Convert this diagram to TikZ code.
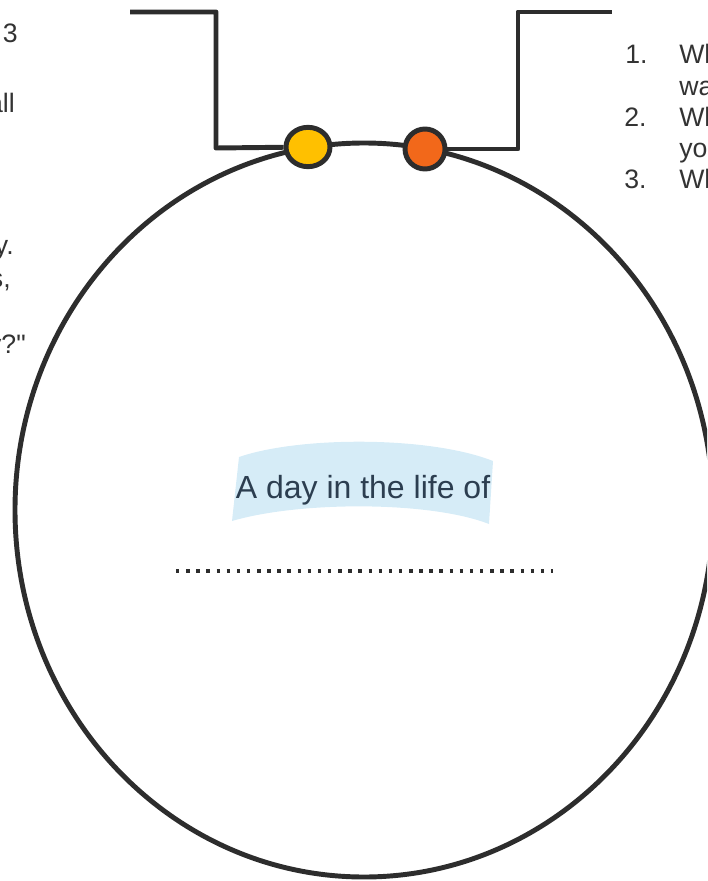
\documentclass[tikz,border=0pt]{standalone}
\usepackage{fontspec}
\setmainfont{Liberation Sans}[Ligatures=TeXOff]
\usetikzlibrary{positioning, shapes.geometric}
\definecolor{inkgray}{RGB}{45,45,45}
\definecolor{dotyellow}{RGB}{255,192,0}
\definecolor{dotorange}{RGB}{242,104,26}
\definecolor{bannerblue}{RGB}{214,236,247}
\definecolor{titleslate}{RGB}{44,62,80}
\definecolor{sidegray}{RGB}{51,51,51}

\begin{document}
\begin{tikzpicture}[x=0.75pt, y=-0.75pt,
  outline/.style={draw=inkgray, line width=3.7pt, line join=round},
  dotnode/.style={ellipse, draw=inkgray, line width=3.7pt, inner sep=0pt},
  sidetext/.style={font=\fontsize{20pt}{23pt}\selectfont, text=sidegray, inner sep=0pt}]
  \useasboundingbox (0,0) rectangle (707,881);
  \clip (0,0) rectangle (707,881);

  % big frame
  \draw[outline] (364,510) ellipse [x radius=349, y radius=367];

  % the two dots on top
  \node[dotnode, fill=dotyellow, minimum width=33pt, minimum height=29.5pt] (ydot) at (308,147) {};
  \node[dotnode, fill=dotorange, minimum width=30pt, minimum height=30pt] (odot) at (425,149) {};

  \coordinate (lefttop) at (130,12);
  \coordinate (leftbend) at (216,148);
  \coordinate (rightbend) at (518,149);
  \coordinate (righttop) at (612,12);
  \draw[outline] (lefttop) -| (leftbend) -- (ydot);
  \draw[outline] (odot) -- (rightbend) |- (righttop);

  % title banner
  \fill[bannerblue] (239,457) .. controls (300,436) and (430,436) .. (493,461)
    -- (489,524) .. controls (430,501) and (300,501) .. (232,521) -- cycle;
  \node[font=\fontsize{24pt}{28pt}\selectfont, text=titleslate, inner sep=0pt, anchor=base]
    (daytitle) at (363,498) {A day in the life of};

  \coordinate (dotsleft) at (176,571);
  \coordinate (dotsright) at (553,571);
  \draw[draw=inkgray, line width=2.6pt, dash pattern=on 2.6pt off 5pt] (dotsleft) -- (dotsright);

  % left column (cut off)
  \node[sidetext, anchor=base east] (lefta) at (18,43) {3};
  \node[sidetext, anchor=base east] (leftb) at (15,113) {all};
  \node[sidetext, anchor=base east] (leftc) at (14,254) {y.};
  \node[sidetext, anchor=base east] (leftd) at (11,287) {s,};
  \node[sidetext, anchor=base east] (lefte) at (26,353) {y?"};

  % right column (cut off)
  \node[sidetext, anchor=base west] (numone) at (625,64) {1.};
  \node[sidetext, anchor=base west] (qone) at (679,64) {Wh};
  \node[sidetext, anchor=base west] (qonetail) at (679,95) {wa};
  \node[sidetext, anchor=base west] (numtwo) at (624,126) {2.};
  \node[sidetext, anchor=base west] (qtwo) at (679,126) {Wh};
  \node[sidetext, anchor=base west] (qtwotail) at (679,157) {you};
  \node[sidetext, anchor=base west] (numthree) at (624,188) {3.};
  \node[sidetext, anchor=base west] (qthree) at (679,188) {Wh};
\end{tikzpicture}
\end{document}
